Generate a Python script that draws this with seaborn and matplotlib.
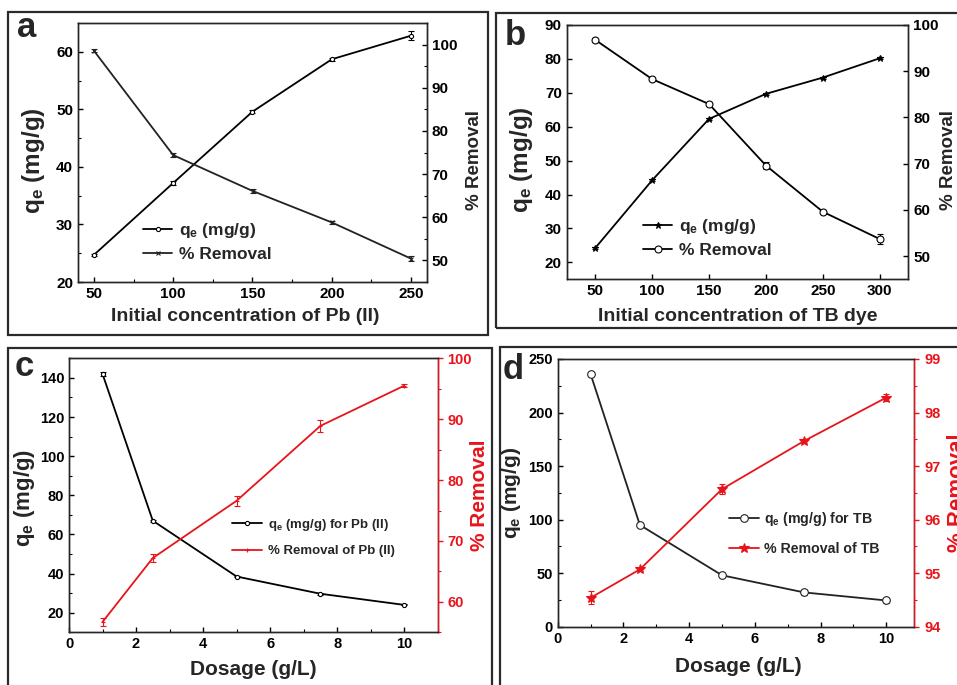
import matplotlib.pyplot as plt
import seaborn as sns
from matplotlib.patches import Rectangle
from matplotlib.ticker import MultipleLocator

# ---- data ----
conc_pb = [50, 100, 150, 200, 250]
qe_pb = [24.7, 37.2, 49.6, 58.7, 62.8]
qe_pb_err = [0.2, 0.3, 0.3, 0.3, 0.8]
rem_pb = [98.6, 74.4, 66.1, 58.8, 50.4]
rem_pb_err = [0.4, 0.5, 0.4, 0.4, 0.6]

conc_tb = [50, 100, 150, 200, 250, 300]
qe_tb = [24.2, 44.2, 62.3, 69.7, 74.5, 80.2]
qe_tb_err = [0.3, 0.3, 0.3, 0.3, 0.3, 0.3]
rem_tb = [96.8, 88.3, 82.9, 69.6, 59.6, 53.7]
rem_tb_err = [0.3, 0.3, 0.4, 0.8, 0.4, 1.0]

dosage = [1, 2.5, 5, 7.5, 10]
qe_dose_pb = [142.0, 67.0, 38.5, 29.7, 24.0]
qe_dose_pb_err = [1.2, 0.6, 0.4, 0.4, 0.3]
rem_dose_pb = [56.7, 67.2, 76.6, 88.9, 95.5]
rem_dose_pb_err = [0.7, 0.7, 0.8, 1.0, 0.2]

qe_dose_tb = [236.0, 95.0, 48.0, 32.0, 24.5]
qe_dose_tb_err = [2.0, 2.0, 2.0, 2.0, 2.0]
rem_dose_tb = [94.54, 95.07, 96.57, 97.47, 98.28]
rem_dose_tb_err = [0.12, 0.03, 0.10, 0.03, 0.06]

QE = r'q$_\mathregular{e}$ (mg/g)'
RED = '#e8141b'

sns.set_style('ticks')
plt.rcParams['font.family'] = ['Liberation Sans', 'DejaVu Sans']
plt.rcParams['font.weight'] = 'bold'
plt.rcParams['mathtext.default'] = 'regular'
plt.rcParams['axes.linewidth'] = 1.0

W, H = 957, 685
fig = plt.figure(figsize=(W / 100, H / 100), dpi=100)


def px_axes(left, top, right, bottom):
    return fig.add_axes([left / W, 1 - bottom / H, (right - left) / W, (bottom - top) / H])


def frame(left, top, right, bottom):
    fig.add_artist(Rectangle((left / W, 1 - bottom / H), (right - left) / W, (bottom - top) / H,
                             transform=fig.transFigure, fill=False, lw=1.6, ec='#2a2a2a'))


def series(ax, x, y, err, color, marker, ms, mfc, label):
    ax.errorbar(x, y, yerr=err, fmt='none', ecolor=color, elinewidth=0.8, capsize=2.5, capthick=0.8)
    sns.lineplot(x=x, y=y, ax=ax, color=color, marker=marker, markersize=ms,
                 markerfacecolor=mfc, markeredgecolor=color, markeredgewidth=0.8,
                 linewidth=1.3, label=label, legend=False)


def style_ticks(ax, size, color='black', direction='in'):
    ax.tick_params(which='both', direction=direction, colors=color, labelsize=size)
    ax.tick_params(which='major', length=3.5, width=1.0)
    ax.tick_params(which='minor', length=2, width=0.8)
    for lab in ax.get_xticklabels() + ax.get_yticklabels():
        lab.set_fontweight('bold')


def legend(ax, ax2, anchor, size, hl, spacing):
    h1, l1 = ax.get_legend_handles_labels()
    h2, l2 = ax2.get_legend_handles_labels()
    ax.legend(h1 + h2, l1 + l2, loc='center left', bbox_to_anchor=anchor, frameon=False,
              prop={'size': size, 'weight': 'bold'}, handlelength=hl, handletextpad=0.4,
              labelspacing=spacing, borderpad=0, borderaxespad=0)


# panel frames
frame(8, 12, 488, 335)
frame(496, 13, 975, 328)
frame(8, 348, 492, 700)
frame(500, 347, 975, 700)

# ---- a: Pb (II) initial concentration ----
ax = px_axes(78, 23, 427, 282)
ax2 = ax.twinx()
series(ax, conc_pb, qe_pb, qe_pb_err, 'black', 'o', 3, 'white', QE)
series(ax2, conc_pb, rem_pb, rem_pb_err, '#222222', 'x', 3, 'none', '% Removal')
ax.set_xlim(40, 260)
ax.set_ylim(20, 65)
ax2.set_ylim(45, 105)
ax.xaxis.set_major_locator(MultipleLocator(50))
ax.xaxis.set_minor_locator(MultipleLocator(25))
ax.yaxis.set_major_locator(MultipleLocator(10))
ax.yaxis.set_minor_locator(MultipleLocator(5))
ax2.yaxis.set_major_locator(MultipleLocator(10))
ax2.yaxis.set_minor_locator(MultipleLocator(5))
style_ticks(ax, 11)
style_ticks(ax2, 11)
ax.set_xlabel('Initial concentration of Pb (II)', fontsize=14, fontweight='bold')
ax.set_ylabel(QE, fontsize=17.5, fontweight='bold')
ax2.set_ylabel('% Removal', fontsize=13.5, fontweight='bold')
ax.xaxis.set_label_coords(0.48, -0.10)
ax.yaxis.set_label_coords(-0.089, 0.47)
ax2.yaxis.set_label_coords(1.112, 0.47)
legend(ax, ax2, (0.186, 0.156), 12.5, 1.7, 0.35)

# ---- b: TB dye initial concentration ----
ax = px_axes(566.7, 25, 908.3, 279.3)
ax2 = ax.twinx()
series(ax, conc_tb, qe_tb, qe_tb_err, 'black', '*', 5, 'black', QE)
series(ax2, conc_tb, rem_tb, rem_tb_err, 'black', 'o', 5, 'white', '% Removal')
ax.set_xlim(25, 325)
ax.set_ylim(15, 90)
ax2.set_ylim(45, 100)
ax.xaxis.set_major_locator(MultipleLocator(50))
ax.yaxis.set_major_locator(MultipleLocator(10))
ax2.yaxis.set_major_locator(MultipleLocator(10))
style_ticks(ax, 11)
style_ticks(ax2, 11)
ax.set_xlabel('Initial concentration of TB dye', fontsize=14, fontweight='bold')
ax.set_ylabel(QE, fontsize=17.5, fontweight='bold')
ax2.set_ylabel('% Removal', fontsize=13.5, fontweight='bold')
ax.xaxis.set_label_coords(0.5, -0.113)
ax.yaxis.set_label_coords(-0.093, 0.47)
ax2.yaxis.set_label_coords(1.093, 0.47)
legend(ax, ax2, (0.223, 0.164), 12.5, 1.7, 0.35)

# ---- c: dosage, Pb (II) ----
ax = px_axes(69, 358.3, 437.7, 632.3)
ax2 = ax.twinx()
series(ax, dosage, qe_dose_pb, qe_dose_pb_err, 'black', 'o', 3, 'white', QE + ' for Pb (II)')
series(ax2, dosage, rem_dose_pb, rem_dose_pb_err, RED, '+', 3, RED, '% Removal of Pb (II)')
ax.set_xlim(0, 11)
ax.set_ylim(10, 150)
ax2.set_ylim(55, 100)
ax.xaxis.set_major_locator(MultipleLocator(2))
ax.xaxis.set_minor_locator(MultipleLocator(1))
ax.yaxis.set_major_locator(MultipleLocator(20))
ax.yaxis.set_minor_locator(MultipleLocator(10))
ax2.yaxis.set_major_locator(MultipleLocator(10))
ax2.yaxis.set_minor_locator(MultipleLocator(5))
style_ticks(ax, 10.5)
style_ticks(ax2, 10.5, color=RED, direction='out')
ax2.spines['right'].set_color(RED)
ax.set_xlabel('Dosage (g/L)', fontsize=15, fontweight='bold')
ax.set_ylabel(QE, fontsize=16, fontweight='bold')
ax2.set_ylabel('% Removal', fontsize=15, fontweight='bold', color=RED)
ax.xaxis.set_label_coords(0.5, -0.101)
ax.yaxis.set_label_coords(-0.087, 0.49)
ax2.yaxis.set_label_coords(1.088, 0.5)
legend(ax, ax2, (0.442, 0.348), 9.5, 2.3, 0.95)

# ---- d: dosage, TB dye ----
ax = px_axes(557.7, 359, 914.3, 626.7)
ax2 = ax.twinx()
series(ax, dosage, qe_dose_tb, qe_dose_tb_err, '#222222', 'o', 5.5, 'white', QE + ' for TB')
series(ax2, dosage, rem_dose_tb, rem_dose_tb_err, RED, '*', 7, RED, '% Removal of TB')
ax.set_xlim(0, 10.85)
ax.set_ylim(0, 250)
ax2.set_ylim(94, 99)
ax.xaxis.set_major_locator(MultipleLocator(2))
ax.xaxis.set_minor_locator(MultipleLocator(1))
ax.yaxis.set_major_locator(MultipleLocator(50))
ax.yaxis.set_minor_locator(MultipleLocator(25))
ax2.yaxis.set_major_locator(MultipleLocator(1))
ax2.yaxis.set_minor_locator(MultipleLocator(0.5))
style_ticks(ax, 10.5)
style_ticks(ax2, 10.5, color=RED, direction='out')
ax2.spines['right'].set_color(RED)
ax.set_xlabel('Dosage (g/L)', fontsize=15, fontweight='bold')
ax.set_ylabel(QE, fontsize=15, fontweight='bold')
ax2.set_ylabel('% Removal', fontsize=16, fontweight='bold', color=RED)
ax.xaxis.set_label_coords(0.506, -0.113)
ax.yaxis.set_label_coords(-0.097, 0.5)
ax2.yaxis.set_label_coords(1.092, 0.5)
legend(ax, ax2, (0.48, 0.35), 10.2, 2.1, 1.0)

# panel letters
for letter, x, y in [('a', 17, 37), ('b', 505, 45), ('c', 15, 376), ('d', 503, 379)]:
    fig.text(x / W, 1 - y / H, letter, fontsize=25, fontweight='bold', va='baseline')

fig.savefig('out.png', dpi=100)
